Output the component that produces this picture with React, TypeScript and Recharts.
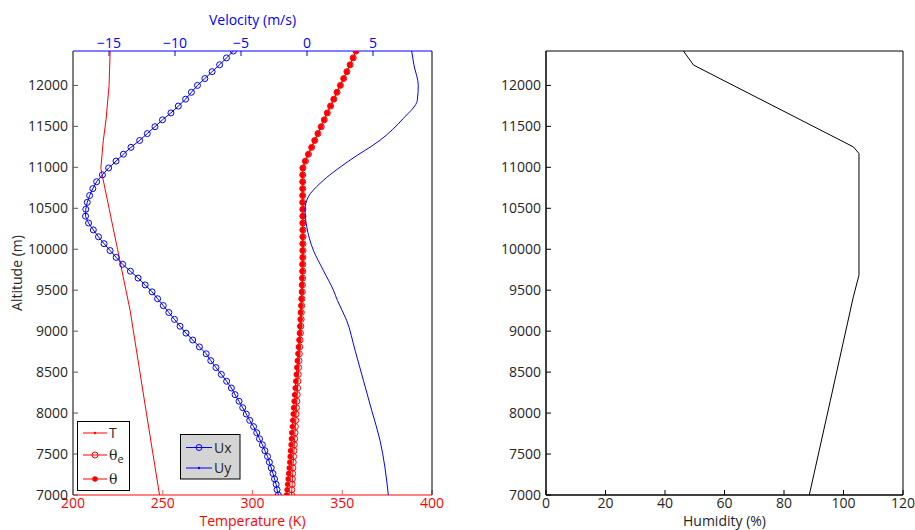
import React from 'react';
import { ScatterChart, Scatter, XAxis, YAxis } from 'recharts';

const FONT = '"Open Sans", sans-serif';
const RED = '#ff0000';
const BLUE = '#0000ff';
const INK = '#262626';

// altitude levels (m) shared by the marker series
const altLevels = [
  7000, 7065, 7130, 7196, 7263, 7331, 7400, 7470, 7541, 7613, 7686, 7760, 7835, 7911, 7988, 8066, 8145, 8225,
  8306, 8388, 8472, 8556, 8640, 8724, 8808, 8892, 8976, 9060, 9144, 9228, 9312, 9396, 9480, 9564, 9648, 9732,
  9816, 9900, 9984, 10068, 10152, 10236, 10320, 10404, 10488, 10572, 10656, 10740, 10824, 10908, 10992, 11076,
  11160, 11244, 11328, 11412, 11496, 11580, 11664, 11748, 11832, 11916, 12000, 12084, 12168, 12252, 12336, 12420,
];

// Ux (m/s)
const uxVals = [
  -2.17, -2.27, -2.34, -2.46, -2.58, -2.71, -2.85, -2.99, -3.19, -3.38, -3.6, -3.81, -4.05, -4.34, -4.6, -4.87,
  -5.15, -5.45, -5.73, -6.09, -6.49, -6.9, -7.29, -7.64, -8.15, -8.66, -9.17, -9.62, -10.04, -10.47, -10.89,
  -11.32, -11.74, -12.26, -12.8, -13.38, -13.97, -14.46, -14.92, -15.38, -15.8, -16.19, -16.55, -16.78, -16.76,
  -16.65, -16.47, -16.23, -15.94, -15.5, -15.03, -14.47, -13.91, -13.34, -12.68, -12.1, -11.52, -10.95, -10.31,
  -9.75, -9.2, -8.76, -8.3, -7.74, -7.19, -6.62, -6.1, -5.58,
];

// potential temperature theta (K)
const thetaVals = [
  319.0, 319.3, 319.6, 319.9, 320.2, 320.5, 320.8, 321.0, 321.2, 321.5, 321.7, 321.9, 322.2, 322.4, 322.7, 322.9,
  323.2, 323.5, 323.8, 324.1, 324.4, 324.7, 325.0, 325.3, 325.6, 325.9, 326.2, 326.4, 326.6, 326.8, 327.0, 327.2,
  327.4, 327.5, 327.6, 327.7, 327.7, 327.8, 327.8, 327.8, 327.8, 327.8, 327.8, 327.8, 327.8, 327.8, 327.8, 327.8,
  327.8, 327.8, 327.9, 329.3, 331.0, 332.8, 334.5, 336.3, 338.1, 339.9, 341.6, 343.4, 345.2, 347.0, 348.9, 350.7,
  352.5, 354.3, 356.0, 357.6,
];

// equivalent potential temperature theta_e (K)
const thetaEVals = [
  321.8, 321.9, 322.1, 322.2, 322.4, 322.5, 322.7, 322.9, 323.1, 323.3, 323.5, 323.7, 323.9, 324.1, 324.3, 324.5,
  324.7, 324.9, 325.1, 325.3, 325.5, 325.7, 325.9, 326.1, 326.3, 326.5, 326.7, 326.9, 327.1, 327.2, 327.4, 327.5,
  327.7, 327.8, 327.9, 328.0, 328.0, 328.1, 328.1, 328.1, 328.1, 328.1, 328.1, 328.1, 328.1, 328.0, 328.0, 328.0,
  328.0, 328.0, 328.1, 329.5, 331.2, 333.0, 334.7, 336.5, 338.3, 340.0, 341.7, 343.5, 345.3, 347.1, 349.0, 350.8,
  352.6, 354.4, 356.1, 357.7,
];

// temperature T (K)
const tAlt = [7000, 8000, 9256, 10000, 10500, 10986, 11330, 11580, 12000, 12420];
const tVals = [248.2, 240.9, 231.8, 224.8, 220.1, 215.5, 216.9, 218.4, 220.1, 220.7];

// Uy (m/s)
const uyAlt = [
  7000, 7342, 7668, 8034, 8401, 8767, 9133, 9376, 9500, 9744, 9988, 10273, 10480, 10640, 10803, 11088, 11330,
  11597, 11820, 12000, 12250, 12420,
];
const uyVals = [
  6.16, 5.9, 5.53, 4.9, 4.27, 3.64, 3.0, 2.3, 2.0, 1.23, 0.48, -0.02, -0.15, 0.1, 0.98, 3.26, 5.53, 7.3, 8.36,
  8.43, 8.1, 7.93,
];

// humidity (%)
const humAlt = [7000, 8157, 9418, 9683, 11170, 11250, 12248, 12420];
const humVals = [88.5, 95.6, 103.3, 105.2, 105.2, 103.3, 49.6, 46.2];

const altTicks = [7000, 7500, 8000, 8500, 9000, 9500, 10000, 10500, 11000, 11500, 12000];
const tempTicks = [200, 250, 300, 350, 400];
const velTicks = [-15, -10, -5, 0, 5];
const humTicks = [0, 20, 40, 60, 80, 100, 120];

const ALT_DOMAIN: [number, number] = [7000, 12420];

const pts = (xs: number[], ys: number[]) => xs.map((x, i) => ({ x, y: ys[i] }));
const minus = (v: number) => String(v).replace('-', '\u2212');

const openCircle = (color: string) => (p: any) => (
  <circle cx={p.cx} cy={p.cy} r={3} fill="none" stroke={color} strokeWidth={1} />
);
const filledDot = (color: string) => (p: any) => <circle cx={p.cx} cy={p.cy} r={2.7} fill={color} />;
const noMarker = () => <g />;

const tickStyle = (fill: string) => ({ fill, fontSize: 14, fontFamily: FONT });

function LeftPanel() {
  return (
    <ScatterChart width={460} height={530} margin={{ top: 5, right: 27, bottom: 5, left: 13 }}>
      <XAxis
        xAxisId="temp"
        type="number"
        dataKey="x"
        orientation="bottom"
        domain={[200, 400]}
        ticks={tempTicks}
        interval={0}
        allowDataOverflow
        height={30}
        tickSize={-5}
        tickMargin={8}
        axisLine={{ stroke: '#ff5a5a', strokeWidth: 1.5 }}
        tickLine={{ stroke: '#ff5a5a' }}
        tick={tickStyle(RED)}
        label={{ value: 'Temperature (K)', position: 'insideBottom', offset: -1, fill: RED, fontSize: 14, fontFamily: FONT }}
      />
      <XAxis
        xAxisId="vel"
        type="number"
        dataKey="x"
        orientation="top"
        domain={[-17.73, 9.47]}
        ticks={velTicks}
        interval={0}
        allowDataOverflow
        height={46}
        tickSize={-5}
        tickMargin={8}
        tickFormatter={minus}
        axisLine={{ stroke: BLUE }}
        tickLine={{ stroke: BLUE }}
        tick={tickStyle(BLUE)}
        label={{ value: 'Velocity (m/s)', position: 'insideTop', offset: 10, fill: BLUE, fontSize: 14, fontFamily: FONT }}
      />
      <YAxis
        yAxisId="alt"
        type="number"
        dataKey="y"
        domain={ALT_DOMAIN}
        ticks={altTicks}
        interval={0}
        allowDataOverflow
        width={60}
        tickSize={-5}
        tickMargin={10}
        axisLine={{ stroke: '#555', strokeWidth: 1.5 }}
        tickLine={{ stroke: '#555' }}
        tick={tickStyle(INK)}
        label={{
          value: 'Altitude (m)',
          angle: -90,
          position: 'insideLeft',
          offset: 4,
          fill: INK,
          fontSize: 14,
          fontFamily: FONT,
          style: { textAnchor: 'middle' },
        }}
      />
      <YAxis
        yAxisId="edge"
        type="number"
        orientation="right"
        domain={ALT_DOMAIN}
        width={1}
        tick={false}
        tickLine={false}
        axisLine={{ stroke: '#000' }}
      />
      <Scatter
        xAxisId="temp"
        yAxisId="alt"
        data={pts(tVals, tAlt)}
        line={{ stroke: RED, strokeWidth: 1 }}
        lineType="joint"
        shape={noMarker}
        isAnimationActive={false}
      />
      <Scatter
        xAxisId="temp"
        yAxisId="alt"
        data={pts(thetaEVals, altLevels)}
        line={{ stroke: RED, strokeWidth: 1 }}
        lineType="joint"
        shape={openCircle(RED)}
        isAnimationActive={false}
      />
      <Scatter
        xAxisId="temp"
        yAxisId="alt"
        data={pts(thetaVals, altLevels)}
        line={{ stroke: RED, strokeWidth: 1 }}
        lineType="joint"
        shape={filledDot(RED)}
        isAnimationActive={false}
      />
      <Scatter
        xAxisId="vel"
        yAxisId="alt"
        data={pts(uxVals, altLevels)}
        line={{ stroke: BLUE, strokeWidth: 1 }}
        lineType="joint"
        shape={openCircle(BLUE)}
        isAnimationActive={false}
      />
      <Scatter
        xAxisId="vel"
        yAxisId="alt"
        data={pts(uyVals, uyAlt)}
        line={{ stroke: BLUE, strokeWidth: 1 }}
        lineType="joint"
        lineJointType="monotoneY"
        shape={noMarker}
        isAnimationActive={false}
      />
    </ScatterChart>
  );
}

function RightPanel() {
  return (
    <ScatterChart width={445} height={530} margin={{ top: 50, right: 11, bottom: 5, left: 16 }}>
      <XAxis
        xAxisId="hum"
        type="number"
        dataKey="x"
        domain={[0, 120]}
        ticks={humTicks}
        interval={0}
        allowDataOverflow
        height={30}
        tickSize={-5}
        tickMargin={8}
        axisLine={{ stroke: '#000', strokeWidth: 1.5 }}
        tickLine={{ stroke: '#000' }}
        tick={tickStyle(INK)}
        label={{ value: 'Humidity (%)', position: 'insideBottom', offset: -1, fill: INK, fontSize: 14, fontFamily: FONT }}
      />
      <XAxis
        xAxisId="top"
        type="number"
        orientation="top"
        domain={[0, 120]}
        ticks={humTicks}
        interval={0}
        height={1}
        tickSize={-5}
        tick={false}
        axisLine={{ stroke: '#000' }}
        tickLine={{ stroke: '#000' }}
      />
      <YAxis
        yAxisId="alt"
        type="number"
        dataKey="y"
        domain={ALT_DOMAIN}
        ticks={altTicks}
        interval={0}
        allowDataOverflow
        width={60}
        tickSize={-5}
        tickMargin={10}
        axisLine={{ stroke: '#000', strokeWidth: 1.5 }}
        tickLine={{ stroke: '#000' }}
        tick={tickStyle(INK)}
      />
      <YAxis
        yAxisId="right"
        type="number"
        orientation="right"
        domain={ALT_DOMAIN}
        ticks={altTicks}
        interval={0}
        width={1}
        tickSize={-5}
        tick={false}
        axisLine={{ stroke: '#000' }}
        tickLine={{ stroke: '#000' }}
      />
      <Scatter
        xAxisId="hum"
        yAxisId="alt"
        data={pts(humVals, humAlt)}
        line={{ stroke: '#000', strokeWidth: 1 }}
        lineType="joint"
        shape={noMarker}
        isAnimationActive={false}
      />
    </ScatterChart>
  );
}

function Legends() {
  const serif = '"DejaVu Serif", "Liberation Serif", serif';
  return (
    <svg width={915} height={530} style={{ position: 'absolute', left: 0, top: 0, pointerEvents: 'none' }}>
      <rect x={77.5} y={421.5} width={52} height={69} fill="#fff" stroke="#000" />
      <line x1={83} x2={107} y1={433} y2={433} stroke={RED} />
      <circle cx={95} cy={433} r={1.2} fill={RED} />
      <text x={109} y={438} fontSize={14} fontFamily={FONT} fill={INK}>T</text>
      <line x1={83} x2={107} y1={455} y2={455} stroke={RED} />
      <circle cx={95} cy={455} r={3} fill="none" stroke={RED} />
      <text x={109} y={460} fontSize={14} fontFamily={serif} fill={INK}>
        θ<tspan fontSize={11} fontFamily={FONT} dy={3}>e</tspan>
      </text>
      <line x1={83} x2={107} y1={479} y2={479} stroke={RED} />
      <circle cx={95} cy={479} r={2.7} fill={RED} />
      <text x={109} y={484} fontSize={14} fontFamily={serif} fill={INK}>θ</text>

      <rect x={180.5} y={434.5} width={59.5} height={44.5} fill="#d4d4d4" stroke="#000" />
      <line x1={186} x2={212} y1={447.5} y2={447.5} stroke={BLUE} />
      <circle cx={199} cy={447.5} r={3} fill="none" stroke={BLUE} />
      <text x={214} y={452.5} fontSize={14} fontFamily={FONT} fill={INK}>Ux</text>
      <line x1={186} x2={212} y1={468} y2={468} stroke={BLUE} />
      <circle cx={199} cy={468} r={1.2} fill={BLUE} />
      <text x={214} y={473} fontSize={14} fontFamily={FONT} fill={INK}>Uy</text>
    </svg>
  );
}

export default function App() {
  return (
    <div style={{ position: 'absolute', left: 0, top: 0, width: 915, height: 530, background: '#fff' }}>
      <div style={{ position: 'absolute', left: 0, top: 0 }}>
        <LeftPanel />
      </div>
      <div style={{ position: 'absolute', left: 470, top: 0 }}>
        <RightPanel />
      </div>
      <Legends />
    </div>
  );
}
